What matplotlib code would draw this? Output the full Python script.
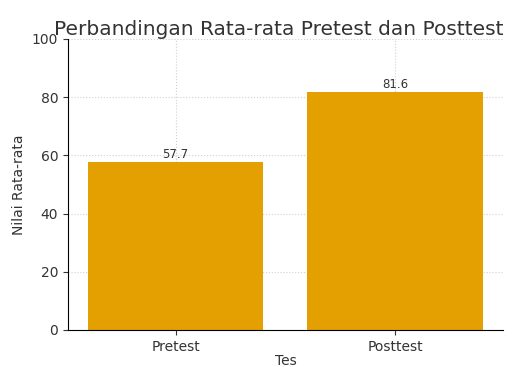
import matplotlib
matplotlib.use("Agg")
import matplotlib.pyplot as plt

# data
tests = ["Pretest", "Posttest"]
means = [57.7, 81.6]

fig = plt.figure(figsize=(5.18, 3.67), dpi=100)
ax = fig.add_axes([0.131, 0.101, 0.84, 0.793])

bars = ax.bar(tests, means, color="#E3A000", width=0.8, zorder=2)
for b, v in zip(bars, means):
    ax.text(b.get_x() + b.get_width() / 2, v + 0.5, f"{v:.1f}",
            ha="center", va="bottom", fontsize=8.5, color="#333333")

ax.set_ylim(0, 100)
ax.set_title("Perbandingan Rata-rata Pretest dan Posttest", fontsize=14.5,
             color="#333333", pad=3, x=0.485)
ax.set_xlabel("Tes", fontsize=10, color="#333333", labelpad=0)
ax.set_ylabel("Nilai Rata-rata", fontsize=10, color="#333333")
ax.tick_params(labelsize=10, colors="#333333")
ax.grid(True, linestyle=":", color="#d0d0d0", linewidth=0.8, zorder=0)
ax.spines["top"].set_visible(False)
ax.spines["right"].set_visible(False)

fig.savefig("out.png", dpi=100)
